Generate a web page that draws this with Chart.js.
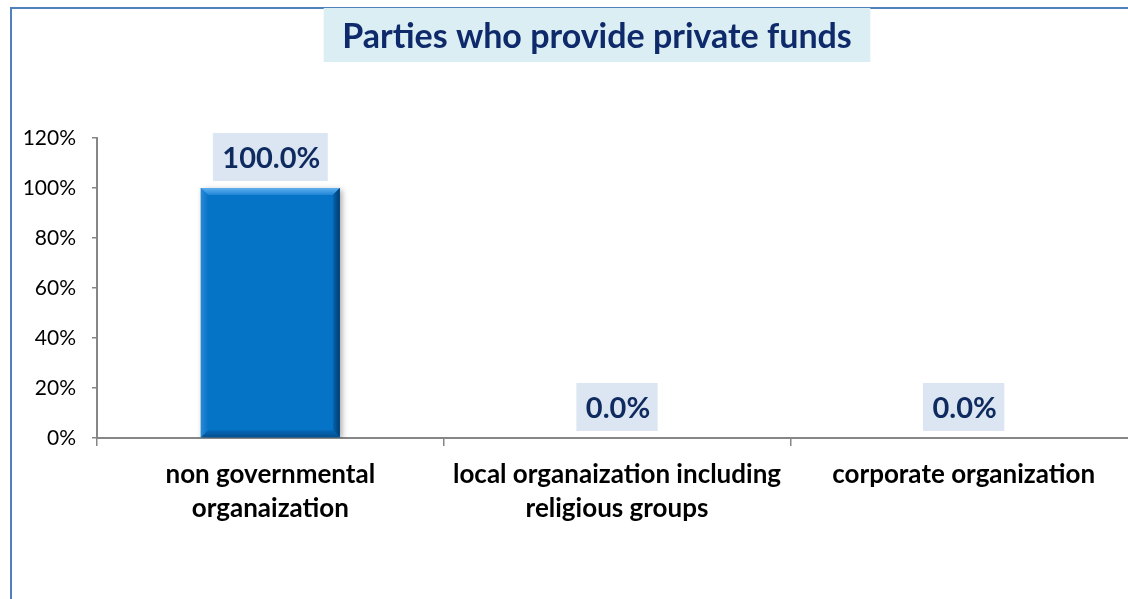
<!DOCTYPE html>
<html>
<head>
<meta charset="utf-8">
<script src="https://cdn.jsdelivr.net/npm/chart.js@4/dist/chart.umd.min.js"></script>
<style>
  html, body { margin: 0; padding: 0; background: #ffffff; overflow: hidden; }
  #wrap { position: relative; width: 1140px; height: 599px; }
  canvas { display: block; }
</style>
</head>
<body>
<div id="wrap"><canvas id="c" width="1140" height="599"></canvas></div>
<script>
const chartTitle = 'Parties who provide private funds';
const categories = [
  ['non governmental', 'organaization'],
  ['local organaization including', 'religious groups'],
  ['corporate organization']
];
const values = [100.0, 0.0, 0.0];
const yTicks = [0, 20, 40, 60, 80, 100, 120];

const FONT = 'Lato, "Open Sans", "DejaVu Sans", sans-serif';

const framePlugin = {
  id: 'frame',
  beforeDraw(chart) {
    const ctx = chart.ctx;
    ctx.save();
    ctx.fillStyle = '#ffffff';
    ctx.fillRect(0, 0, chart.width, chart.height);
    ctx.strokeStyle = '#4f81bd';
    ctx.lineWidth = 2;
    ctx.beginPath();
    ctx.moveTo(11, chart.height + 2);
    ctx.lineTo(11, 8);
    ctx.lineTo(chart.width + 2, 8);
    ctx.stroke();
    ctx.font = 'bold 34px ' + FONT;
    const tw = ctx.measureText(chartTitle).width;
    const cx = 597;
    const bw = tw + 37;
    ctx.fillStyle = '#daeef3';
    ctx.fillRect(cx - bw / 2, 8, bw, 54);
    ctx.fillStyle = '#0f2a6a';
    ctx.textAlign = 'center';
    ctx.textBaseline = 'alphabetic';
    ctx.fillText(chartTitle, cx, 48);
    ctx.restore();
  }
};

const barStylePlugin = {
  id: 'barStyle',
  beforeDatasetsDraw(chart) {
    const ctx = chart.ctx;
    ctx.save();
    ctx.shadowColor = 'rgba(0,0,0,0.35)';
    ctx.shadowBlur = 6;
    ctx.shadowOffsetX = 2;
    ctx.shadowOffsetY = 2;
  },
  afterDatasetsDraw(chart) {
    const ctx = chart.ctx;
    ctx.restore();
    const meta = chart.getDatasetMeta(0);
    meta.data.forEach((bar, i) => {
      if (values[i] <= 0) return;
      const l = bar.x - bar.width / 2, r = bar.x + bar.width / 2;
      const t = bar.y, b = bar.base;
      const e = 7;
      ctx.save();
      const gt = ctx.createLinearGradient(0, t, 0, t + e);
      gt.addColorStop(0, '#5fb0ee');
      gt.addColorStop(1, '#1f86d6');
      ctx.fillStyle = gt;
      ctx.beginPath();
      ctx.moveTo(l, t); ctx.lineTo(r, t); ctx.lineTo(r - e, t + e); ctx.lineTo(l + e, t + e); ctx.closePath();
      ctx.fill();
      const gr = ctx.createLinearGradient(r - e, 0, r, 0);
      gr.addColorStop(0, '#0566b3');
      gr.addColorStop(1, '#003a6e');
      ctx.fillStyle = gr;
      ctx.beginPath();
      ctx.moveTo(r, t); ctx.lineTo(r, b); ctx.lineTo(r - e, b - e); ctx.lineTo(r - e, t + e); ctx.closePath();
      ctx.fill();
      const gb = ctx.createLinearGradient(0, b - e, 0, b);
      gb.addColorStop(0, '#0568b8');
      gb.addColorStop(1, '#04508f');
      ctx.fillStyle = gb;
      ctx.beginPath();
      ctx.moveTo(l, b); ctx.lineTo(r, b); ctx.lineTo(r - e, b - e); ctx.lineTo(l + e, b - e); ctx.closePath();
      ctx.fill();
      const gl = ctx.createLinearGradient(l, 0, l + e, 0);
      gl.addColorStop(0, '#2a8ad6');
      gl.addColorStop(1, '#0774c8');
      ctx.fillStyle = gl;
      ctx.beginPath();
      ctx.moveTo(l, t); ctx.lineTo(l + e, t + e); ctx.lineTo(l + e, b - e); ctx.lineTo(l, b); ctx.closePath();
      ctx.fill();
      ctx.restore();
    });
  }
};

const dataLabelPlugin = {
  id: 'dataLabels',
  afterDraw(chart) {
    const ctx = chart.ctx;
    const meta = chart.getDatasetMeta(0);
    ctx.save();
    ctx.font = 'bold 29px ' + FONT;
    ctx.textAlign = 'center';
    ctx.textBaseline = 'alphabetic';
    meta.data.forEach((bar, i) => {
      const txt = values[i].toFixed(1) + '%';
      const w = ctx.measureText(txt).width + 17;
      const h = 48;
      const bottom = bar.y - 7;
      const top = bottom - h;
      ctx.fillStyle = '#dce6f2';
      ctx.fillRect(bar.x - w / 2, top, w, h);
      ctx.fillStyle = '#0f2a5e';
      ctx.fillText(txt, bar.x + 1, top + 35);
    });
    ctx.restore();
  }
};

new Chart(document.getElementById('c'), {
  type: 'bar',
  data: {
    labels: categories,
    datasets: [{
      data: values,
      backgroundColor: '#0574c7',
      borderWidth: 0,
      categoryPercentage: 1.0,
      barPercentage: 0.401
    }]
  },
  options: {
    responsive: false,
    animation: false,
    devicePixelRatio: 1,
    layout: { padding: { top: 138, right: 3, left: 0, bottom: 0 } },
    plugins: {
      legend: { display: false },
      tooltip: { enabled: false },
      title: { display: false }
    },
    scales: {
      x: {
        offset: true,
        grid: {
          offset: true,
          drawOnChartArea: false,
          drawTicks: true,
          tickLength: 8,
          color: '#868686',
          lineWidth: 1.5
        },
        border: { color: '#868686', width: 2 },
        ticks: {
          color: '#000000',
          font: { family: FONT, size: 26, weight: 'bold', lineHeight: 1.31 },
          padding: 12,
          maxRotation: 0,
          autoSkip: false
        },
        afterFit(scale) { scale.height = 161; }
      },
      y: {
        min: 0,
        max: 120,
        afterBuildTicks(scale) { scale.ticks = yTicks.map(v => ({ value: v })); },
        grid: {
          drawOnChartArea: false,
          drawTicks: true,
          tickLength: 5,
          color: '#868686',
          lineWidth: 1.5
        },
        border: { color: '#868686', width: 2 },
        ticks: {
          color: '#000000',
          font: { family: FONT, size: 21 },
          padding: 16,
          callback: v => v + '%'
        },
        afterFit(scale) { scale.width = 97; }
      }
    }
  },
  plugins: [framePlugin, barStylePlugin, dataLabelPlugin]
});
</script>
</body>
</html>
